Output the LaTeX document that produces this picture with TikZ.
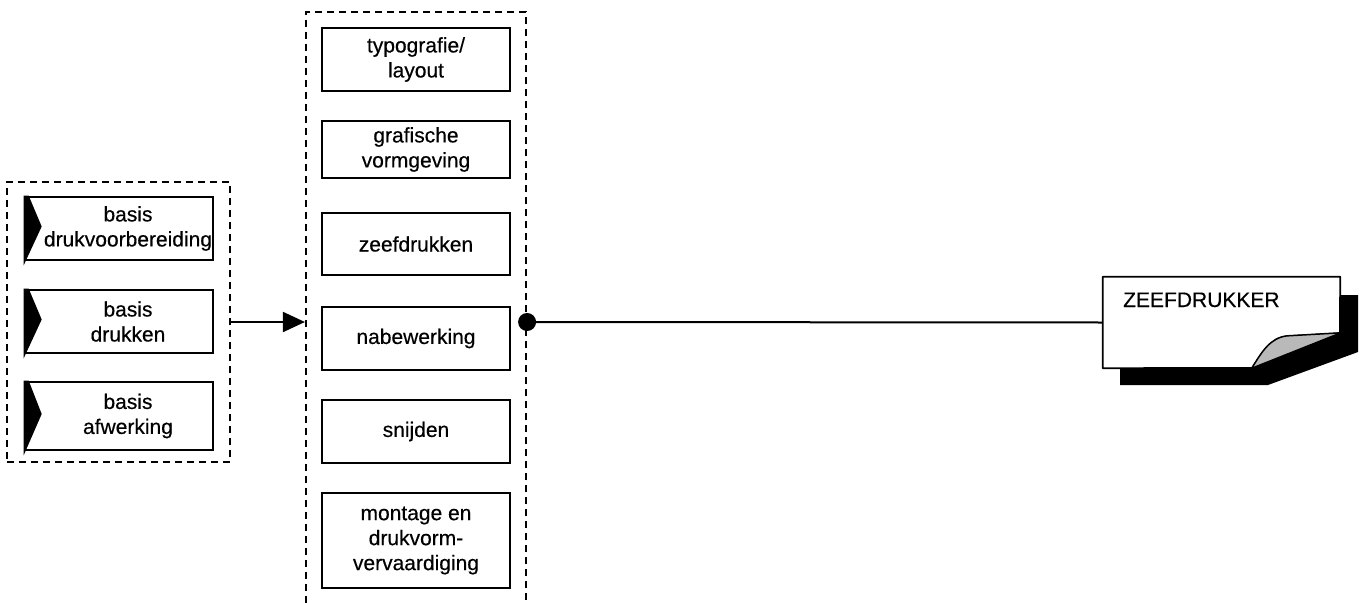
\documentclass[tikz,border=0pt]{standalone}
\usepackage{fontspec}
\setmainfont{Liberation Sans}[FakeBold=0.4]
\usetikzlibrary{arrows.meta,calc}
\tikzset{
  grp/.style={draw, line width=2.2pt, dash pattern=on 7pt off 5pt, minimum width=#1, inner sep=0pt},
  lbox/.style={draw, line width=2.6pt, minimum width=188pt, inner sep=0pt},
  mbox/.style={draw, line width=2.6pt, minimum width=188pt, inner sep=0pt, align=center, font=\fontsize{21}{25}\selectfont},
  txt/.style={align=center, inner sep=0pt, font=\fontsize{21}{25}\selectfont},
  conn/.style={line width=2pt},
}
\begin{document}
\begin{tikzpicture}[x=1pt,y=-1pt]
\useasboundingbox (0,0) rectangle (1364,602);
\clip (0,0) rectangle (1364,602);
% groups
\node[grp=223pt, minimum height=280pt] (lg) at (118.5,322) {};
\node[grp=220pt, minimum height=620pt] (mg) at (416,322) {};
% left boxes
\node[lbox, minimum height=63pt] (lb1) at (119,228.5) {};
\node[lbox, minimum height=63pt] (lb2) at (119,321.5) {};
\node[lbox, minimum height=68pt] (lb3) at (119,416) {};
\foreach \b in {lb1,lb2,lb3}{
  \fill (\b.north west) -- ++(5,0) -- ($(\b.west)+(18,-2)$) -- ($(\b.south west)+(0,4)$) -- cycle;
}
\node[txt] (t1) at ($(lb1.center)+(9,0)$) {basis\\drukvoorbereiding};
\node[txt] (t2) at ($(lb2.center)+(9,0)$) {basis\\drukken};
\node[txt] (t3) at ($(lb3.center)+(9,0)$) {basis\\afwerking};
% middle boxes
\node[mbox, minimum height=63pt] (mb1) at (416,59.5) {typografie/\\layout};
\node[mbox, minimum height=57pt] (mb2) at (416,149.5) {grafische\\vormgeving};
\node[mbox, minimum height=62pt] (mb3) at (416,244) {zeefdrukken};
\node[mbox, minimum height=63pt] (mb4) at (416,338.5) {nabewerking};
\node[mbox, minimum height=63pt] (mb5) at (416,431.5) {snijden};
\node[mbox, minimum height=95pt] (mb6) at (416,540.5) {montage en\\drukvorm-\\vervaardiging};
% ZEEFDRUKKER card
\node[minimum width=237pt, minimum height=91pt, inner sep=0pt] (zeef) at (1221.5,322.5) {};
\fill (1120,360) -- (1120,385) -- (1268,385) -- (1358,352) -- (1358,295) -- (1330,295) -- cycle;
\filldraw[fill=white, line width=1.8pt, line join=round]
  (zeef.north west) -- (zeef.north east) -- (1340,333) -- (1287,336)
  .. controls (1270,338) and (1262,352) .. (1252,368) -- (zeef.south west) -- cycle;
\filldraw[fill=gray!55, line width=1.2pt, line join=round]
  (1252,368) .. controls (1262,352) and (1270,338) .. (1287,336) -- (1340,333) -- cycle;
\node[anchor=base west, inner sep=0pt, font=\fontsize{21}{25}\selectfont] (zt) at (1123,307) {ZEEFDRUKKER};
% connectors
\draw[conn, -{Triangle[length=22pt,width=20pt]}] (lg.east) -- (mg.west);
\node[circle, fill, inner sep=0pt, minimum size=18pt] (dot) at (mg.east) {};
\draw[conn] (dot.center) -- (zeef.west);
\end{tikzpicture}
\end{document}
